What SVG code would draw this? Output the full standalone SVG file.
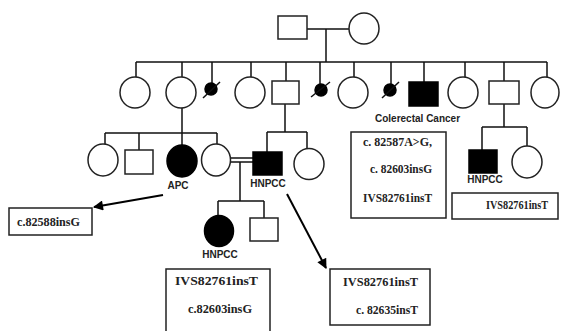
<svg xmlns="http://www.w3.org/2000/svg" width="561" height="331" viewBox="0 0 561 331">
<style>
.ln{stroke:#111;stroke-width:1.5;fill:none}
.o{fill:#fff;stroke:#222;stroke-width:1.5}
.f{fill:#000;stroke:#000;stroke-width:1.5}
.bx{fill:#fff;stroke:#222;stroke-width:1.5}
.lb{font-family:"Liberation Sans",Arial,sans-serif;font-weight:bold;font-size:10px;fill:#222}
.mt{font-family:"Liberation Serif","Times New Roman",serif;font-weight:bold;font-size:12px;fill:#222}
.ar{stroke:#000;stroke-width:2;fill:none;marker-end:url(#ah)}
</style>
<defs>
<marker id="ah" viewBox="0 0 10 10" refX="9" refY="5" markerWidth="6" markerHeight="5" orient="auto" markerUnits="strokeWidth">
<path d="M0,0 L10,5 L0,10 z" fill="#000"/>
</marker>
</defs>
<rect width="561" height="331" fill="#fff"/>
<g id="connectors">
<path class="ln" d="M307,29 H349 M326,29 V62 M136,62 H547"/>
<path class="ln" d="M136,62 V77 M182,62 V77 M212,62 V83 M251,62 V77 M286,62 V81 M320,62 V84 M354,62 V77 M391,62 V84 M424,62 V82 M465,62 V77 M504,62 V81 M547,62 V77"/>
<path class="ln" d="M182,108 V133 M105,133 H217 M105,133 V144 M139,133 V150 M182,133 V145 M217,133 V144"/>
<path class="ln" d="M231,158 H253 M231,162 H253 M240,162 V201 M218,201 H264 M218,201 V215 M264,201 V218"/>
<path class="ln" d="M285,104 V132 M267,132 H307 M267,132 V152 M307,132 V149"/>
<path class="ln" d="M504,104 V127 M482,127 H527 M482,127 V150 M527,127 V146"/>
<line class="ar" x1="163" y1="195" x2="94" y2="207"/>
<line class="ar" x1="287" y1="194" x2="326" y2="268"/>
</g>
<g id="gen1-father"><rect class="o" x="278" y="16" width="29" height="23"/></g>
<g id="gen1-mother"><ellipse class="o" cx="364" cy="28.5" rx="15" ry="15.5"/></g>
<g id="g2-1"><ellipse class="o" cx="135" cy="92.5" rx="15" ry="15.5"/></g>
<g id="g2-2"><ellipse class="o" cx="181" cy="92.5" rx="15" ry="15.5"/></g>
<g id="g2-3"><circle class="f" cx="211" cy="89" r="6"/><line class="ln" x1="203" y1="98" x2="220" y2="82" stroke-width="1"/></g>
<g id="g2-4"><ellipse class="o" cx="250" cy="92.5" rx="15" ry="15.5"/></g>
<g id="g2-5"><rect class="o" x="272" y="81" width="27" height="23"/></g>
<g id="g2-6"><circle class="f" cx="321" cy="90" r="6"/><line class="ln" x1="311" y1="97" x2="330" y2="82" stroke-width="1"/></g>
<g id="g2-7"><ellipse class="o" cx="353" cy="92.5" rx="15" ry="15.5"/></g>
<g id="g2-8"><circle class="f" cx="390" cy="90" r="6"/><line class="ln" x1="382" y1="98" x2="399" y2="82" stroke-width="1"/></g>
<g id="g2-9"><rect class="f" x="409" y="82" width="29" height="24"/><text class="lb" x="375" y="122" font-size="10.5">Colerectal Cancer</text></g>
<g id="g2-10"><ellipse class="o" cx="463" cy="92.5" rx="15" ry="15.5"/></g>
<g id="g2-11"><rect class="o" x="489" y="81" width="30" height="23"/></g>
<g id="g2-12"><ellipse class="o" cx="545" cy="92.5" rx="14" ry="15.5"/></g>
<g id="g3-1"><ellipse class="o" cx="103" cy="160" rx="15" ry="16"/></g>
<g id="g3-2"><rect class="o" x="125" y="150" width="28" height="24"/></g>
<g id="g3-3"><ellipse class="f" cx="182" cy="161" rx="15" ry="16"/><text class="lb" x="178" y="189" text-anchor="middle">APC</text></g>
<g id="g3-4"><ellipse class="o" cx="216" cy="160" rx="14.5" ry="16"/></g>
<g id="g3-5"><rect class="f" x="253" y="152" width="29" height="23"/><text class="lb" x="268" y="187" text-anchor="middle">HNPCC</text></g>
<g id="g3-6"><ellipse class="o" cx="309" cy="164" rx="15" ry="15.5"/></g>
<g id="g3-7"><rect class="f" x="469" y="150" width="28" height="23"/><text class="lb" x="485" y="183" text-anchor="middle">HNPCC</text></g>
<g id="g3-8"><ellipse class="o" cx="527" cy="162" rx="15" ry="16"/></g>
<g id="g4-1"><ellipse class="f" cx="219" cy="231" rx="14.5" ry="15.5"/><text class="lb" x="220" y="258" text-anchor="middle">HNPCC</text></g>
<g id="g4-2"><rect class="o" x="250" y="218" width="28" height="23"/></g>
<g id="box-apc"><rect class="bx" x="9" y="208" width="83" height="27"/><text class="mt" x="17" y="226" textLength="63" lengthAdjust="spacingAndGlyphs">c.82588insG</text></g>
<g id="box-colorectal"><rect class="bx" x="351" y="132" width="95" height="86"/>
<text class="mt" x="363" y="146" textLength="69" lengthAdjust="spacingAndGlyphs">c. 82587A&gt;G,</text>
<text class="mt" x="370" y="173" textLength="62" lengthAdjust="spacingAndGlyphs">c. 82603insG</text>
<text class="mt" x="363" y="202" textLength="69" lengthAdjust="spacingAndGlyphs">IVS82761insT</text></g>
<g id="box-right"><rect class="bx" x="452" y="193" width="106" height="26"/><text class="mt" x="486" y="209" textLength="62" lengthAdjust="spacingAndGlyphs">IVS82761insT</text></g>
<g id="box-g4"><rect class="bx" x="166" y="269" width="104" height="70"/>
<text class="mt" x="175" y="285" textLength="83" lengthAdjust="spacingAndGlyphs">IVS82761insT</text>
<text class="mt" x="188" y="313" textLength="64" lengthAdjust="spacingAndGlyphs">c.82603insG</text></g>
<g id="box-hnpcc"><rect class="bx" x="330" y="269" width="100" height="56"/>
<text class="mt" x="343" y="286" textLength="75" lengthAdjust="spacingAndGlyphs">IVS82761insT</text>
<text class="mt" x="356" y="314" textLength="62" lengthAdjust="spacingAndGlyphs">c. 82635insT</text></g>
</svg>
